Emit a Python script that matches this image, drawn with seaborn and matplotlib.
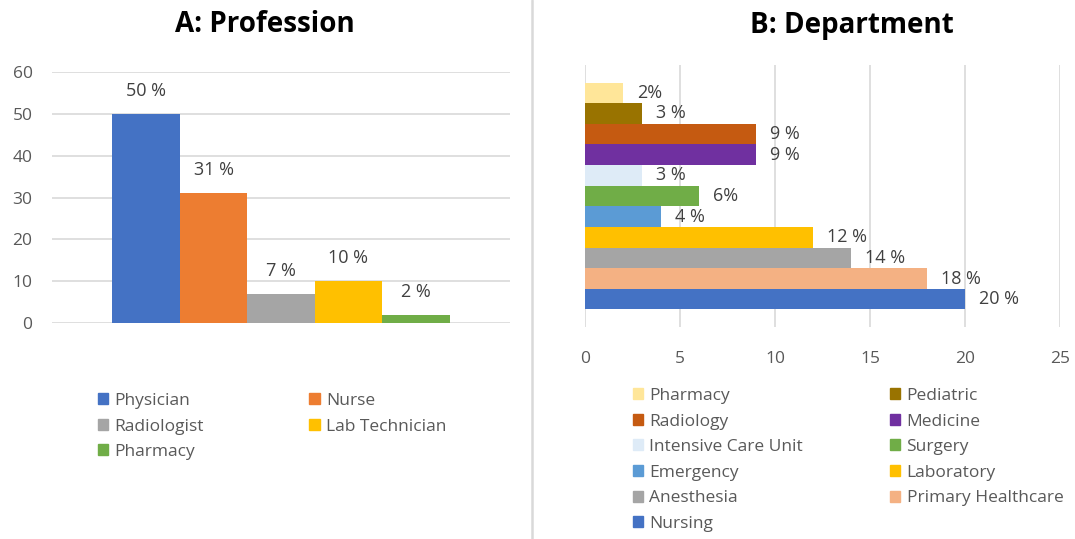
import matplotlib
matplotlib.use("Agg")
import matplotlib.pyplot as plt
import matplotlib.patches as mpatches
from matplotlib.lines import Line2D
import pandas as pd
import seaborn as sns

# Panel A: profession
professions = ["Physician", "Nurse", "Radiologist", "Lab Technician", "Pharmacy"]
profession_values = [50, 31, 7, 10, 2]
profession_labels = ["50 %", "31 %", "7 %", "10 %", "2 %"]
profession_colors = ["#4472C4", "#ED7D31", "#A5A5A5", "#FFC000", "#70AD47"]
profession_ticks = [0, 10, 20, 30, 40, 50, 60]

# Panel B: department
departments = ["Pharmacy", "Pediatric", "Radiology", "Medicine", "Intensive Care Unit",
               "Surgery", "Emergency", "Laboratory", "Anesthesia",
               "Primary Healthcare", "Nursing"]
department_values = [2, 3, 9, 9, 3, 6, 4, 12, 14, 18, 20]
department_labels = ["2%", "3 %", "9 %", "9 %", "3 %", "6%", "4 %", "12 %", "14 %", "18 %", "20 %"]
department_colors = ["#FFE699", "#997300", "#C55A11", "#7030A0", "#DEEBF7",
                     "#70AD47", "#5B9BD5", "#FFC000", "#A5A5A5", "#F4B183", "#4472C4"]
department_ticks = [0, 5, 10, 15, 20, 25]

sns.set_theme(style="white")
plt.rcParams["font.family"] = ["Open Sans", "DejaVu Sans"]

TICK_C = "#595959"
LABEL_C = "#404040"
GRID_C = "#D9D9D9"
FS = 12.5
LABEL_FS = 13
TITLE_FS = 20

W, H = 1075, 539
fig = plt.figure(figsize=(W / 100, H / 100), dpi=100)
fig.patch.set_facecolor("white")


def px_axes(left, top, right, bottom):
    return fig.add_axes([left / W, 1 - bottom / H, (right - left) / W, (bottom - top) / H])


def row_major(handles, ncol=2):
    # legend fills column by column; reorder so entries read left-to-right
    return [h for c in range(ncol) for h in handles[c::ncol]]


# ---------- Panel A ----------
axA = px_axes(52, 72, 510, 323)
dfA = pd.DataFrame({"group": [""] * len(professions),
                    "profession": professions,
                    "value": profession_values})
sns.barplot(data=dfA, x="group", y="value", hue="profession", hue_order=professions,
            palette=profession_colors, saturation=1, width=0.736, ax=axA,
            legend=False, linewidth=0)
for cont, lab in zip(axA.containers, profession_labels):
    axA.bar_label(cont, labels=[lab], padding=10, fontsize=LABEL_FS, color=LABEL_C)
axA.set_ylim(0, 60)
axA.set_xlim(-0.5, 0.5)
axA.set_yticks(profession_ticks)
axA.set_xticks([])
axA.set_xlabel("")
axA.set_ylabel("")
axA.yaxis.grid(True, color=GRID_C, linewidth=1.2)
axA.set_axisbelow(True)
for s in axA.spines.values():
    s.set_visible(False)
axA.tick_params(axis="y", length=0, pad=14, labelsize=FS, labelcolor=TICK_C)
fig.text(265 / W, 1 - 25 / H, "A: Profession", ha="center", va="center",
         fontsize=TITLE_FS, fontweight="bold", color="black")

handlesA = [mpatches.Patch(color=c, label=l) for c, l in zip(profession_colors, professions)]
fig.legend(handles=row_major(handlesA), loc="upper left", bbox_to_anchor=(98 / W, 1 - 393 / H),
           ncol=2, frameon=False, fontsize=FS, labelcolor=TICK_C,
           handlelength=0.6, handleheight=0.6, handletextpad=0.35,
           columnspacing=6.07, labelspacing=0.55, borderpad=0, borderaxespad=0)

# ---------- Panel B ----------
axB = px_axes(585, 65, 1060, 327)
dfB = pd.DataFrame({"group": [""] * len(departments),
                    "department": departments,
                    "value": department_values})
sns.barplot(data=dfB, y="group", x="value", hue="department", hue_order=departments,
            palette=department_colors, saturation=1, width=0.866, orient="h",
            ax=axB, legend=False, linewidth=0)
for cont, lab in zip(axB.containers, department_labels):
    axB.bar_label(cont, labels=[lab], padding=10, fontsize=LABEL_FS, color=LABEL_C)
axB.set_xlim(0, 25)
axB.set_ylim(0.5, -0.5)
axB.set_xticks(department_ticks)
axB.set_yticks([])
axB.set_xlabel("")
axB.set_ylabel("")
axB.xaxis.grid(True, color=GRID_C, linewidth=1.2)
axB.set_axisbelow(True)
for s in axB.spines.values():
    s.set_visible(False)
axB.tick_params(axis="x", length=0, pad=17.5, labelsize=FS, labelcolor=TICK_C)
fig.text(852 / W, 1 - 25 / H, "B: Department", ha="center", va="center",
         fontsize=TITLE_FS, fontweight="bold", color="black")

handlesB = [mpatches.Patch(color=c, label=l) for c, l in zip(department_colors, departments)]
fig.legend(handles=row_major(handlesB), loc="upper left", bbox_to_anchor=(633 / W, 1 - 388 / H),
           ncol=2, frameon=False, fontsize=FS, labelcolor=TICK_C,
           handlelength=0.6, handleheight=0.6, handletextpad=0.35,
           columnspacing=5.0, labelspacing=0.55, borderpad=0, borderaxespad=0)

# vertical divider between the two panels
fig.add_artist(Line2D([532 / W, 532 / W], [0, 1], transform=fig.transFigure,
                      color=GRID_C, linewidth=1.8))

fig.savefig("out.png", dpi=100, facecolor="white")
